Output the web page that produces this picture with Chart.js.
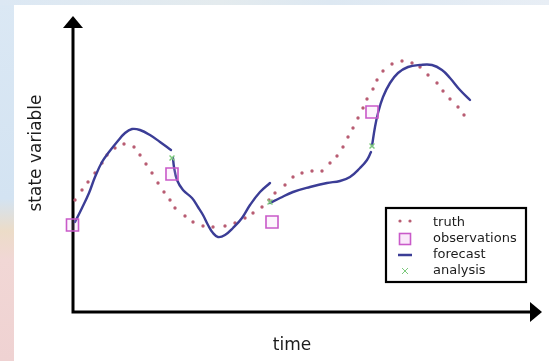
<!DOCTYPE html>
<html>
<head>
<meta charset="utf-8">
<script src="https://cdn.jsdelivr.net/npm/chart.js@4.4.0/dist/chart.umd.min.js"></script>
<style>
  html, body { margin: 0; padding: 0; background: #fff; }
  #wrap { position: relative; width: 549px; height: 361px; overflow: hidden; background: #fff; }
  .strip-left {
    position: absolute; left: 0; top: 0; width: 14px; height: 361px;
    background: linear-gradient(#dbe8f4 0%, #d3e3f2 55%, #ecdcc8 64%, #f1d7d5 72%, #efd2d2 100%);
  }
  .strip-top {
    position: absolute; left: 0; top: 0; width: 549px; height: 5px;
    background: linear-gradient(90deg, #dce8f4, #e4ebee 40%, #dde8f2 60%, #e8eef5);
  }
  canvas { position: absolute; left: 0; top: 0; }
</style>
</head>
<body>
<div id="wrap">
  <div class="strip-left"></div>
  <div class="strip-top"></div>
  <canvas id="chart" width="549" height="361"></canvas>
</div>
<script>
// values: [time, state]
const truthPoints = [
  [5, 112], [12, 122], [18, 130], [25, 139], [32, 149], [37, 157], [45, 164], [54, 168],
  [64, 165], [70, 157], [76, 148], [82, 139], [88, 129], [94, 120], [100, 112], [105, 104],
  [115, 96], [123, 90], [133, 86], [143, 85], [155, 86], [165, 89], [175, 94], [183, 99],
  [192, 105], [199, 112], [205, 119], [215, 127], [223, 135], [232, 139], [242, 141], [252, 141],
  [260, 149], [267, 156], [273, 165], [278, 175], [283, 184], [288, 194], [293, 204], [297, 213],
  [303, 223], [307, 232], [313, 241], [322, 248], [332, 251], [342, 249], [350, 245], [358, 237],
  [367, 229], [373, 221], [380, 213], [388, 205], [394, 197]
];
const forecast1 = [
  [5, 90], [12, 104], [19, 119], [25, 135], [32, 150], [39, 160], [47, 170], [55, 179],
  [62, 183], [70, 182], [80, 177], [90, 170], [101, 162]
];
const forecast2 = [
  [103, 154], [104, 145], [107, 132], [113, 122], [122, 114], [128, 105], [133, 97], [138, 87],
  [143, 79], [148, 75], [155, 77], [163, 84], [172, 94], [180, 107], [190, 120], [200, 129]
];
const forecast3 = [
  [200, 109], [210, 114], [223, 120], [240, 125], [257, 129], [270, 131], [280, 135], [290, 144],
  [297, 152], [301, 160]
];
const forecast4 = [
  [302, 166], [305, 185], [308, 199], [313, 215], [320, 229], [328, 239], [338, 245], [350, 247],
  [362, 247], [372, 242], [380, 234], [390, 222], [400, 212]
];
const analysisPoints = [[102, 154], [200, 110], [302, 166]];
const observationPoints = [[2.5, 87], [102, 138], [202, 90], [302, 200]];
const legendLabels = ['truth', 'observations', 'forecast', 'analysis'];
const xTitle = 'time';
const yTitle = 'state variable';

const truthColor = '#b85c72';
const forecastColor = '#3b3d96';
const analysisColor = '#7cc97c';
const obsColor = '#c95ac9';

const toXY = (pts) => pts.map(([x, y]) => ({ x, y }));

const forecastSet = (pts) => ({
  data: toXY(pts),
  showLine: true,
  borderColor: forecastColor,
  borderWidth: 2.4,
  borderCapStyle: 'round',
  tension: 0.4,
  pointRadius: 0,
  clip: false,
  order: 3,
});

// axes with arrow heads, titles and the boxed legend
const decorPlugin = {
  id: 'decor',
  beforeDatasetsDraw(chart) {
    const { ctx, chartArea: a } = chart;
    ctx.save();
    ctx.strokeStyle = '#000';
    ctx.fillStyle = '#000';
    ctx.lineWidth = 3;
    ctx.beginPath();
    ctx.moveTo(a.left, a.top + 2);
    ctx.lineTo(a.left, a.bottom);
    ctx.lineTo(a.right, a.bottom);
    ctx.stroke();

    ctx.beginPath();
    ctx.moveTo(a.left, a.top - 9);
    ctx.lineTo(a.left - 10, a.top + 3);
    ctx.lineTo(a.left + 10, a.top + 3);
    ctx.closePath();
    ctx.fill();

    ctx.beginPath();
    ctx.moveTo(a.right + 12, a.bottom);
    ctx.lineTo(a.right, a.bottom - 10);
    ctx.lineTo(a.right, a.bottom + 10);
    ctx.closePath();
    ctx.fill();
    ctx.restore();
  },
  afterDraw(chart) {
    const { ctx, chartArea: a } = chart;
    ctx.save();
    ctx.fillStyle = '#1c1c1c';
    ctx.font = '17px "DejaVu Sans"';
    ctx.textAlign = 'center';
    ctx.textBaseline = 'middle';
    ctx.fillText(xTitle, 292, a.bottom + 34);
    ctx.translate(37, 153);
    ctx.rotate(-Math.PI / 2);
    ctx.fillText(yTitle, 0, 0);
    ctx.restore();

    // legend
    ctx.save();
    ctx.fillStyle = '#fff';
    ctx.fillRect(386, 208, 140, 74);
    ctx.strokeStyle = '#000';
    ctx.lineWidth = 2.2;
    ctx.strokeRect(386, 208, 140, 74);
    const rows = [223, 239, 255, 271];
    const sx = 405;

    ctx.fillStyle = truthColor;
    [sx - 5, sx + 5].forEach((dx) => {
      ctx.beginPath();
      ctx.arc(dx, rows[0] - 2, 1.6, 0, Math.PI * 2);
      ctx.fill();
    });

    ctx.fillStyle = 'rgba(240, 190, 240, 0.35)';
    ctx.fillRect(sx - 5.5, rows[1] - 5.5, 11, 11);
    ctx.strokeStyle = obsColor;
    ctx.lineWidth = 1.6;
    ctx.strokeRect(sx - 5.5, rows[1] - 5.5, 11, 11);

    ctx.strokeStyle = forecastColor;
    ctx.lineWidth = 2.5;
    ctx.beginPath();
    ctx.moveTo(sx - 7, rows[2]);
    ctx.lineTo(sx + 7, rows[2]);
    ctx.stroke();

    ctx.strokeStyle = analysisColor;
    ctx.lineWidth = 1;
    ctx.beginPath();
    ctx.moveTo(sx - 3, rows[3] - 3);
    ctx.lineTo(sx + 3, rows[3] + 3);
    ctx.moveTo(sx + 3, rows[3] - 3);
    ctx.lineTo(sx - 3, rows[3] + 3);
    ctx.stroke();

    ctx.fillStyle = '#1c1c1c';
    ctx.font = '13px "DejaVu Sans"';
    ctx.textAlign = 'left';
    ctx.textBaseline = 'middle';
    legendLabels.forEach((label, i) => ctx.fillText(label, 433, rows[i]));
    ctx.restore();
  },
};

new Chart(document.getElementById('chart'), {
  type: 'scatter',
  data: {
    datasets: [
      {
        label: legendLabels[0],
        data: toXY(truthPoints),
        pointRadius: 1.7,
        pointBackgroundColor: truthColor,
        pointBorderWidth: 0,
        clip: false,
        order: 4,
      },
      forecastSet(forecast1),
      forecastSet(forecast2),
      forecastSet(forecast3),
      forecastSet(forecast4),
      {
        label: legendLabels[3],
        data: toXY(analysisPoints),
        pointStyle: 'crossRot',
        pointRadius: 3.5,
        pointBorderColor: analysisColor,
        pointBorderWidth: 1.4,
        clip: false,
        order: 2,
      },
      {
        label: legendLabels[1],
        data: toXY(observationPoints),
        pointStyle: 'rect',
        pointRadius: 8.5,
        pointBackgroundColor: 'rgba(240, 190, 240, 0.15)',
        pointBorderColor: obsColor,
        pointBorderWidth: 1.6,
        clip: false,
        order: 1,
      },
    ],
  },
  options: {
    responsive: false,
    animation: false,
    events: [],
    layout: { padding: { left: 73, right: 19, top: 25, bottom: 49 } },
    scales: {
      x: { type: 'linear', min: 3, max: 460, display: false },
      y: { type: 'linear', min: 0, max: 287, display: false },
    },
    plugins: { legend: { display: false }, tooltip: { enabled: false } },
  },
  plugins: [decorPlugin],
});
</script>
</body>
</html>
